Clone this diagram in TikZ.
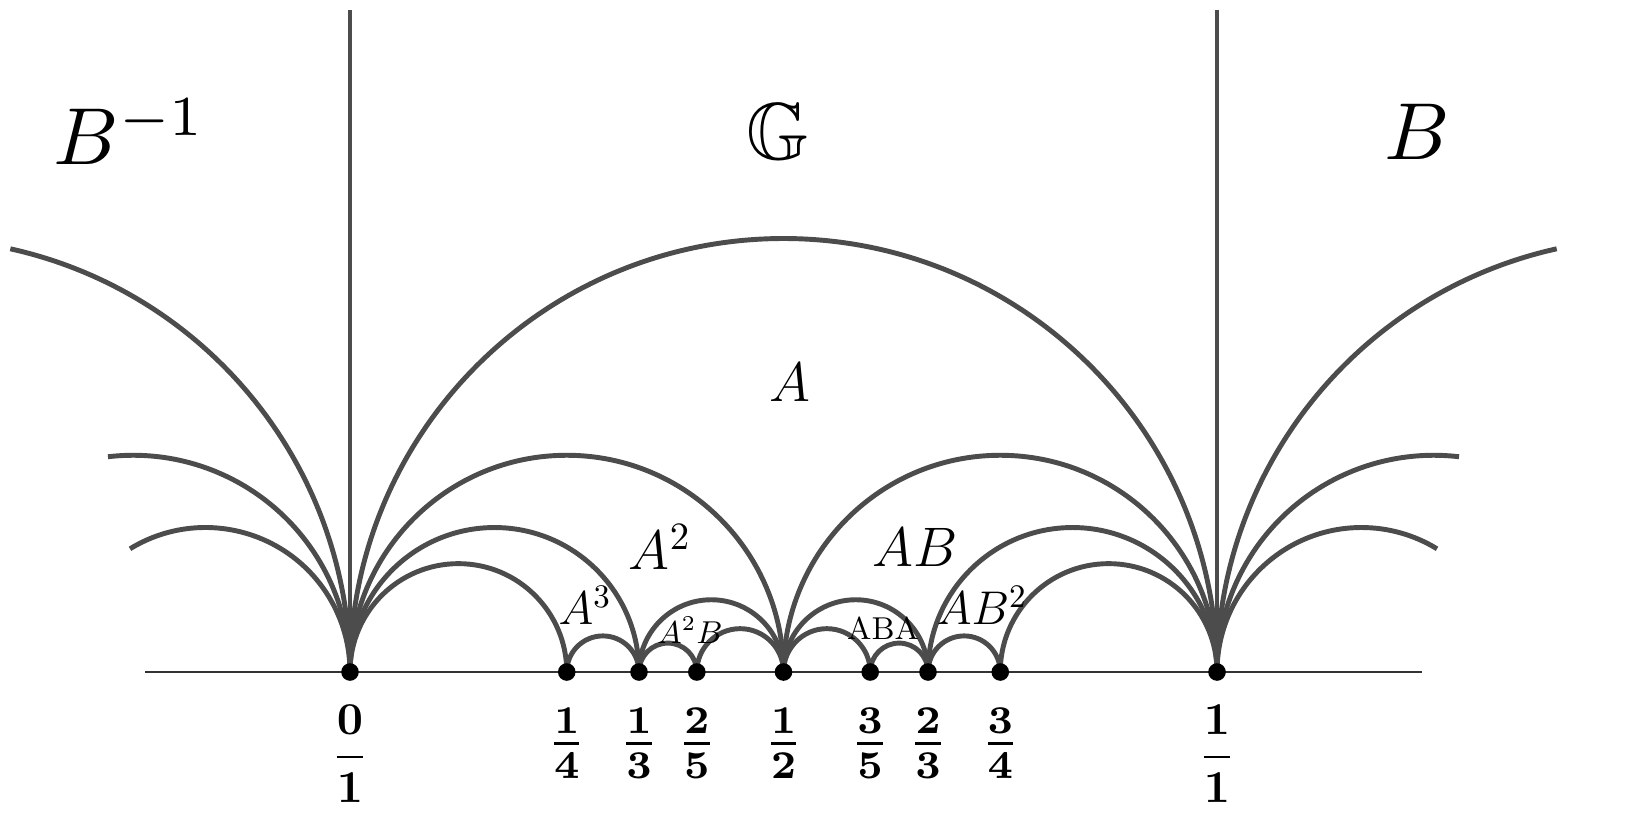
\documentclass[tikz,border=0pt]{standalone}
\usepackage{amssymb}
\usepackage{amsmath}
\usetikzlibrary{positioning}

% geodesic between rationals p and q (as fractions of the unit)
\newcommand{\fareyarc}[2]{\draw[geo] ({3.5+8.67*#1},1.55) arc[start angle=180, end angle=0, radius={8.67*(#2-#1)/2}];}

\begin{document}
\begin{tikzpicture}[
        geo/.style={line width=1.4pt, black!70},
        axis/.style={line width=0.7pt, black!80},
        cusp/.style={circle, fill=black, inner sep=0pt, minimum size=5pt},
        word/.style={font=\Large, scale=1.1},
        frac/.style={font=\boldmath, below=2pt}
    ]
    \useasboundingbox (0,0) rectangle (16.49,8.27);

    % --- Baseline and the two vertical geodesics ---
    \draw[axis] (1.45,1.55) -- (14.22,1.55);
    \draw[geo] (3.5,1.55) -- (3.5,8.17);
    \draw[geo] (12.17,1.55) -- (12.17,8.17);

    % --- Farey arcs ---
    \fareyarc{0}{1}
    \fareyarc{0}{0.5}  \fareyarc{0.5}{1}
    \fareyarc{0}{0.3333} \fareyarc{0.6667}{1}
    \fareyarc{0}{0.25} \fareyarc{0.75}{1}
    \fareyarc{0.25}{0.3333} \fareyarc{0.3333}{0.5} \fareyarc{0.3333}{0.4} \fareyarc{0.4}{0.5}
    \fareyarc{0.5}{0.6} \fareyarc{0.6}{0.6667} \fareyarc{0.5}{0.6667} \fareyarc{0.6667}{0.75}

    % --- Partial arcs leaving the picture ---
    \draw[geo] ({-0.835+4.335*cos(77.5)},{1.55+4.335*sin(77.5)}) arc[start angle=77.5, end angle=0, radius=4.335];
    \draw[geo] ({1.3325+2.1675*cos(96.7)},{1.55+2.1675*sin(96.7)}) arc[start angle=96.7, end angle=0, radius=2.1675];
    \draw[geo] ({2.055+1.445*cos(121.5)},{1.55+1.445*sin(121.5)}) arc[start angle=121.5, end angle=0, radius=1.445];
    \draw[geo] (12.17,1.55) arc[start angle=180, end angle=102.5, radius=4.335];
    \draw[geo] (12.17,1.55) arc[start angle=180, end angle=83.3, radius=2.1675];
    \draw[geo] (12.17,1.55) arc[start angle=180, end angle=58.5, radius=1.445];

    % --- Cusps with labels ---
    \node[cusp] (c0) at (3.5,1.55) {};
    \node[cusp] (c14) at (5.6675,1.55) {};
    \node[cusp] (c13) at (6.39,1.55) {};
    \node[cusp] (c25) at (6.968,1.55) {};
    \node[cusp] (c12) at (7.835,1.55) {};
    \node[cusp] (c35) at (8.702,1.55) {};
    \node[cusp] (c23) at (9.28,1.55) {};
    \node[cusp] (c34) at (10.0025,1.55) {};
    \node[cusp] (c1) at (12.17,1.55) {};
    \node[frac, scale=1.3] at (c0.south) {$\dfrac{0}{1}$};
    \node[frac, scale=1.3] at (c1.south) {$\dfrac{1}{1}$};
    \foreach \n/\p/\q in {c14/1/4, c13/1/3, c25/2/5, c12/1/2, c35/3/5, c23/2/3, c34/3/4}
        \node[frac, scale=1.6] at (\n.south) {$\frac{\p}{\q}$};

    % --- Region words ---
    \node[scale=2.3] (binv) at (1.3,6.95) {$B^{-1}$};
    \node[scale=2.3] (grp) at (7.78,6.95) {$\mathbb{G}$};
    \node[scale=2.3] (b) at (14.17,6.95) {$B$};
    \node[word] (a) at (7.9,4.45) {$A$};
    \node[word] (a2) at (6.6,2.8) {$A^2$};
    \node[word] (ab) at (9.15,2.8) {$AB$};
    \node[word, scale=0.85] (a3) at (5.85,2.22) {$A^3$};
    \node[word, scale=0.85] (ab2) at (9.82,2.22) {$AB^2$};
    \node[font=\small] (a2b) at (6.9,1.97) {$A^2B$};
    \node[font=\small] (aba) at (8.83,1.99) {ABA};
\end{tikzpicture}
\end{document}
